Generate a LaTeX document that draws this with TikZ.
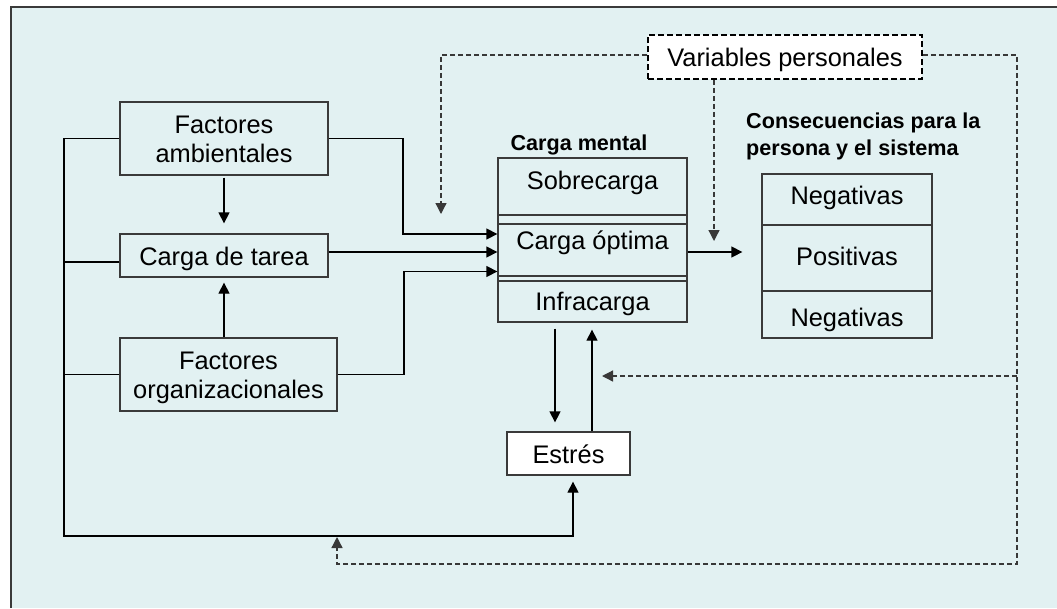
\documentclass[tikz,border=0pt]{standalone}
\usepackage{fontspec}
\setmainfont{Liberation Sans}
\usetikzlibrary{arrows.meta}
\definecolor{bgcyan}{HTML}{E2F1F2}
\definecolor{linegray}{HTML}{3A3A3A}
\definecolor{dashgray}{HTML}{383838}

\begin{document}
\begin{tikzpicture}[x=1pt,y=-1pt,
  txt/.style={font=\fontsize{25.4}{29}\selectfont},
  box/.style={txt, draw=linegray, line width=1.3pt, fill=bgcyan, inner sep=0pt,
    align=center, text height=19pt, text depth=0pt},
  twobox/.style={box, text height=48pt, text depth=0pt},
  whitebox/.style={box, fill=white},
  title/.style={font=\fontsize{21.6}{28}\bfseries\selectfont, inner sep=0pt, align=left},
  conn/.style={line width=1.3pt, black},
  arr/.style={conn, -{Triangle[length=11pt,width=11pt]}},
  dashln/.style={line width=1.3pt, dashgray, dash pattern=on 5pt off 3pt},
  dasharr/.style={dashln, -{Triangle[length=11pt,width=11pt]}},
]
\useasboundingbox (0,0) rectangle (1057,608);
% background panel
\fill[bgcyan] (11,7) rectangle (1057,608);
\draw[linegray, line width=2pt] (11,608) -- (11,7) -- (1057,7);

% left column
\node[twobox, minimum width=208pt, minimum height=73pt] (fa) at (224,138.5) {Factores\\ambientales};
\node[box, minimum width=208pt, minimum height=43pt] (ct) at (224,255.5) {Carga de tarea};
\node[twobox, minimum width=217pt, minimum height=73pt] (fo) at (228.5,374.5) {Factores\\organizacionales};

% mental load block
\node[draw=linegray, line width=1.3pt, fill=bgcyan, minimum width=189pt, minimum height=164pt, inner sep=0pt] (cm) at (592.5,240) {};
\node[box, minimum width=189pt, minimum height=57pt, text depth=14pt] (sob) at (592.5,186.5) {Sobrecarga};
\node[box, minimum width=189pt, minimum height=52pt, text depth=21pt] (opt) at (592.5,250) {Carga óptima};
\node[box, minimum width=189pt, minimum height=41pt, text depth=2pt] (inf) at (592.5,301.5) {Infracarga};
\node[title, anchor=base] (cmt) at (579,150.5) {Carga mental};

% consequences block
\node[draw=linegray, line width=1.3pt, minimum width=170pt, minimum height=164pt, inner sep=0pt] (cons) at (847,256) {};
\node[box, minimum width=170pt, minimum height=51pt, text depth=10pt] (neg1) at (847,199.5) {Negativas};
\node[box, minimum width=170pt, minimum height=66pt, text depth=5pt] (pos) at (847,258) {Positivas};
\node[box, minimum width=170pt, minimum height=47pt, text height=23pt] (neg2) at (847,314.5) {Negativas};
\node[title, anchor=base west] (const) at (746,128) {Consecuencias para la};
\node[title, anchor=base west] (const2) at (746,155.5) {persona y el sistema};

% stress and personal variables
\node[whitebox, minimum width=123pt, minimum height=43pt] (es) at (568.5,453.5) {Estrés};
\node[whitebox, draw=black, line width=1.8pt, dash pattern=on 6pt off 3pt,
  minimum width=274pt, minimum height=44pt] (vp) at (785,57) {Variables personales};

% free ends of the dashed influences
\coordinate (vpL) at (441,214);
\coordinate (vpM) at (714,241);
\coordinate (vpS) at (602,376);
\coordinate (vpB) at (337,537);

% feedback bus on the left
\draw[arr, shorten >=6pt] (fa.west) -- (64,0 |- fa.west) |- (573,536) -- (573,0 |- es.south);
\draw[conn] (ct.west |- 0,262) -- (64,262);
\draw[conn] (fo.west) -- (64,0 |- fo.west);

% inputs into the mental load
\draw[arr] (fa.east) -- (403,0 |- fa.east) |- (cm.west |- 0,234);
\draw[arr] (ct.east |- 0,252) -- (cm.west |- 0,252);
\draw[arr] (fo.east) -- (404,0 |- fo.east) |- (cm.west |- 0,271.5);
\draw[arr, shorten <=2pt, shorten >=10pt] (fa.south) -- (ct.north);
\draw[arr, shorten >=5pt] (fo.north -| ct.south) -- (ct.south);

% mental load and stress
\draw[arr, shorten <=6pt, shorten >=9pt] (cm.south -| 555,0) -- (es.north -| 555,0);
\draw[arr, shorten >=7pt] (es.north -| 592,0) -- (cm.south -| 592,0);

% output to the consequences
\draw[arr, shorten >=19pt] (cm.east |- 0,252) -- (cons.west |- 0,252);

% personal variables
\draw[dasharr] (vp.west |- 0,55) -| (vpL);
\draw[dasharr] (vp.south -| vpM) -- (vpM);
\draw[dasharr] (vp.east |- 0,55) -| (1017,564) -| (vpB);
\draw[dasharr] (1017,376) -- (vpS);
\end{tikzpicture}
\end{document}
